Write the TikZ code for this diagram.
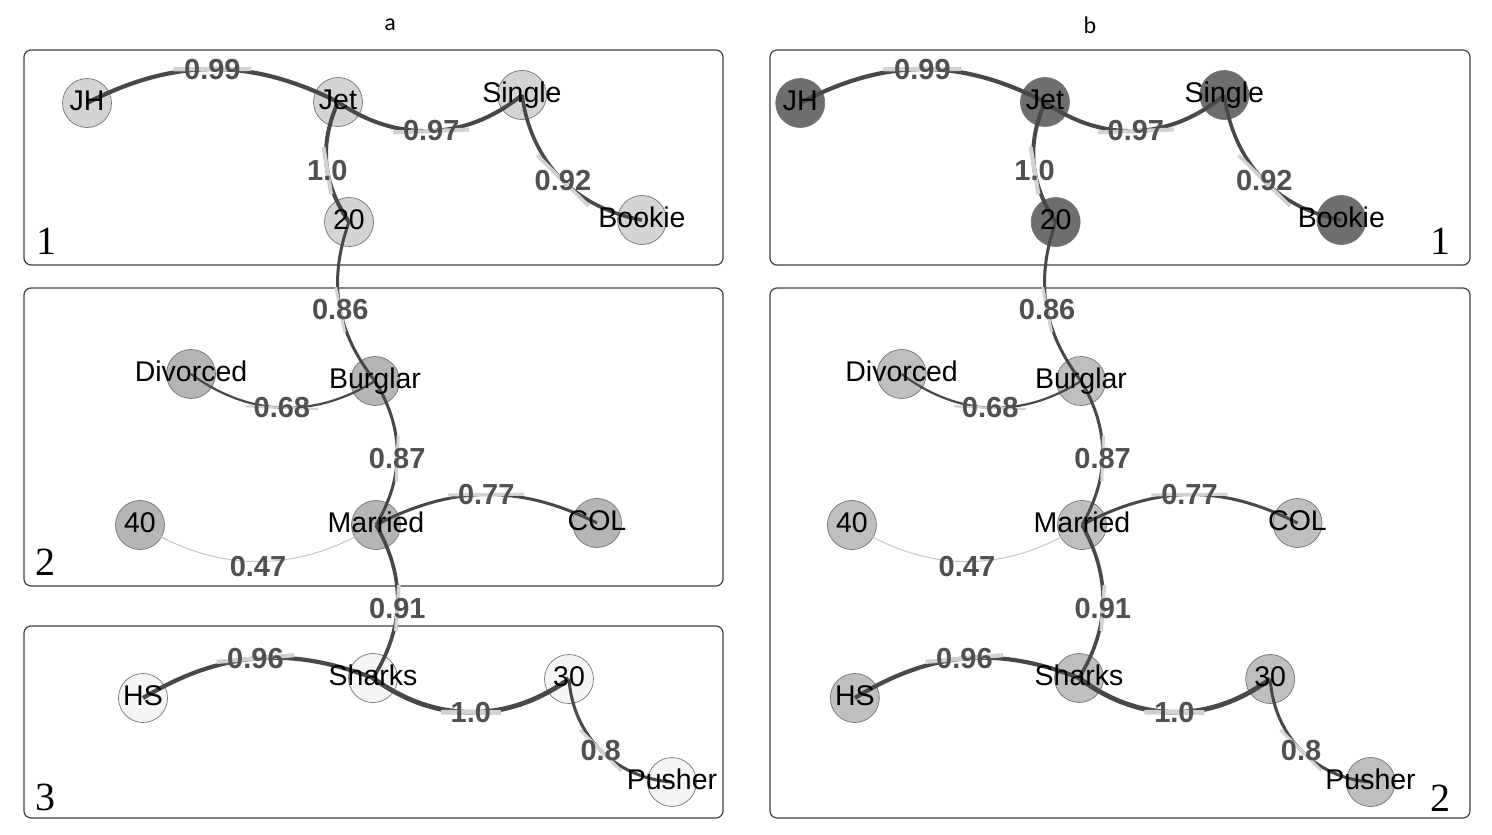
\documentclass[tikz,border=0pt]{standalone}
\usepackage{fontspec}
\setmainfont{Liberation Sans}
\newfontfamily\numfont{Liberation Serif}
\newfontfamily\titlefont{Carlito}
\definecolor{edgecol}{HTML}{484848}
\definecolor{halocol}{HTML}{D2D2D2}
\definecolor{lblcol}{HTML}{505050}
\definecolor{boxcol}{HTML}{404040}
\definecolor{thincol}{HTML}{C4C4C4}
\definecolor{grpAa}{HTML}{D4D4D4}
\definecolor{grpAb}{HTML}{B5B5B5}
\definecolor{grpAc}{HTML}{F5F5F5}
\definecolor{grpBa}{HTML}{6E6E6E}
\definecolor{grpBb}{HTML}{BFBFBF}
\tikzset{
  vert/.style={circle, minimum size=49pt, inner sep=0pt, draw=black!55, line width=0.7pt},
  vtext/.style={anchor=base, yshift=-7pt, inner sep=0pt, font=\fontsize{28.5}{30}\selectfont, text=black},
  edge/.style={draw=edgecol},
  halo/.style 2 args={sloped, fill=halocol, inner sep=0pt, minimum width=#1, minimum height=#2},
  elbl/.style={inner sep=0pt, font=\bfseries\fontsize{29}{30}\selectfont, text=lblcol},
  panel/.style={draw=boxcol, line width=1.2pt, rounded corners=7pt},
  pnum/.style={font=\numfont\fontsize{40}{40}\selectfont, inner sep=0pt},
  ttl/.style={font=\titlefont\fontsize{24}{24}\selectfont, inner sep=0pt}
}
\newcommand\netgraph[4]{%
  % vertices
  \node[vert, fill=#2] (#1JH) at (87,103) {};
  \node[vert, fill=#2] (#1Jet) at (338,102) {};
  \node[vert, fill=#2] (#1Single) at (522,95) {};
  \node[vert, fill=#2] (#1Twenty) at (349,222) {};
  \node[vert, fill=#2] (#1Bookie) at (642,220) {};
  \node[vert, fill=#3] (#1Divorced) at (191,374) {};
  \node[vert, fill=#3] (#1Burglar) at (375,381) {};
  \node[vert, fill=#3] (#1Forty) at (140,525) {};
  \node[vert, fill=#3] (#1Married) at (376,525) {};
  \node[vert, fill=#3] (#1COL) at (597,523) {};
  \node[vert, fill=#4] (#1HS) at (143,698) {};
  \node[vert, fill=#4] (#1Sharks) at (373,678) {};
  \node[vert, fill=#4] (#1Thirty) at (569,679) {};
  \node[vert, fill=#4] (#1Pusher) at (672,782) {};
  % edges
  \draw[edge, line width=4.2pt] (#1JH.center) to[bend left=27]
    node[pos=0.5, halo={78}{4.2pt}]{} node[pos=0.5, elbl]{0.99} (#1Jet.center);
  \draw[edge, line width=4pt] (#1Jet.center) to[bend right=37]
    node[pos=0.5, halo={76}{4pt}]{} node[pos=0.5, elbl]{0.97} (#1Single.center);
  \draw[edge, line width=4pt] (#1Jet.center) to[bend right=29]
    node[pos=0.56, halo={48}{4pt}]{} node[pos=0.56, elbl]{1.0} (#1Twenty.center);
  \draw[edge, line width=3.6pt] (#1Single.center) to[bend right=36]
    node[pos=0.52, halo={72}{3.6pt}]{} node[pos=0.52, elbl]{0.92} (#1Bookie.center);
  \draw[edge, line width=3pt] (#1Twenty.center) to[bend right=29]
    node[pos=0.53, halo={46}{3pt}]{} node[pos=0.53, elbl]{0.86} (#1Burglar.center);
  \draw[edge, line width=2.2pt] (#1Divorced.center) to[bend right=34]
    node[pos=0.5, halo={72}{2.2pt}]{} node[pos=0.5, elbl]{0.68} (#1Burglar.center);
  \draw[edge, line width=3pt] (#1Burglar.center) to[bend left=31]
    node[pos=0.54, halo={46}{3pt}]{} node[pos=0.54, elbl]{0.87} (#1Married.center);
  \draw[edge, line width=3pt] (#1Married.center) to[bend left=27]
    node[pos=0.5, halo={76}{3pt}]{} node[pos=0.5, elbl]{0.77} (#1COL.center);
  \draw[draw=thincol, line width=1pt] (#1Forty.center) to[bend right=32]
    node[pos=0.5, elbl, yshift=-5pt]{0.47} (#1Married.center);
  \draw[edge, line width=3.6pt] (#1Married.center) to[bend left=31]
    node[pos=0.54, halo={46}{3.6pt}]{} node[pos=0.54, elbl]{0.91} (#1Sharks.center);
  \draw[edge, line width=4.2pt] (#1HS.center) to[bend left=26]
    node[pos=0.5, halo={78}{4.2pt}]{} node[pos=0.5, elbl]{0.96} (#1Sharks.center);
  \draw[edge, line width=4.8pt] (#1Sharks.center) to[bend right=36]
    node[pos=0.5, halo={60}{4.8pt}]{} node[pos=0.5, elbl]{1.0} (#1Thirty.center);
  \draw[edge, line width=3pt] (#1Thirty.center) to[bend right=41]
    node[pos=0.5, halo={58}{3pt}]{} node[pos=0.5, elbl]{0.8} (#1Pusher.center);
  % vertex texts
  \node[vtext] (#1tJH) at (#1JH.center) {JH};
  \node[vtext] (#1tJet) at (#1Jet.center) {Jet};
  \node[vtext] (#1tSingle) at (#1Single.center) {Single};
  \node[vtext] (#1tTwenty) at (#1Twenty.center) {20};
  \node[vtext] (#1tBookie) at (#1Bookie.center) {Bookie};
  \node[vtext] (#1tDivorced) at (#1Divorced.center) {Divorced};
  \node[vtext] (#1tBurglar) at (#1Burglar.center) {Burglar};
  \node[vtext] (#1tForty) at (#1Forty.center) {40};
  \node[vtext] (#1tMarried) at (#1Married.center) {Married};
  \node[vtext] (#1tCOL) at (#1COL.center) {COL};
  \node[vtext] (#1tHS) at (#1HS.center) {HS};
  \node[vtext] (#1tSharks) at (#1Sharks.center) {Sharks};
  \node[vtext] (#1tThirty) at (#1Thirty.center) {30};
  \node[vtext] (#1tPusher) at (#1Pusher.center) {Pusher};
}
\begin{document}
\begin{tikzpicture}[x=1pt, y=-1pt]
  \useasboundingbox (0,0) rectangle (1492,835);
  \fill[white] (0,0) rectangle (1492,835);
  % titles
  \node[ttl] (titleA) at (390,25) {a};
  \node[ttl] (titleB) at (1090,25) {b};
  % panels
  \draw[panel] (24,50) rectangle (723,265);
  \draw[panel] (24,288) rectangle (723,586);
  \draw[panel] (24,626) rectangle (723,818);
  \draw[panel] (770,50) rectangle (1470,265);
  \draw[panel] (770,288) rectangle (1470,818);
  % panel numbers
  \node[pnum] (numA1) at (46,241) {1};
  \node[pnum] (numA2) at (45,562) {2};
  \node[pnum] (numA3) at (45,797) {3};
  \node[pnum] (numB1) at (1440,241) {1};
  \node[pnum] (numB2) at (1440,798) {2};
  % graphs
  \netgraph{a}{grpAa}{grpAb}{grpAc}
  \begin{scope}[shift={(715.4,0)}, xscale=0.975]
    \netgraph{b}{grpBa}{grpBb}{grpBb}
  \end{scope}
\end{tikzpicture}
\end{document}
